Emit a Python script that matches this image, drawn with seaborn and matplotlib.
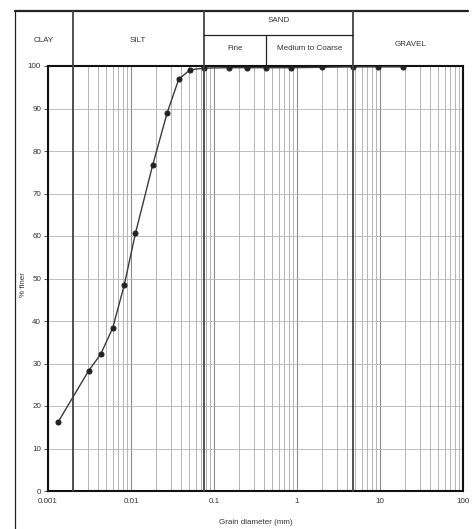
import matplotlib
matplotlib.use("Agg")
import pandas as pd
import matplotlib.pyplot as plt
import seaborn as sns
from matplotlib.ticker import FixedLocator, FixedFormatter, LogLocator, NullFormatter

sns.set_style("white")
plt.rcParams["font.family"] = ["Liberation Sans", "DejaVu Sans"]

# --- Daten ---
diameter_mm = [0.00132, 0.00309, 0.00432, 0.00603, 0.0083, 0.0113, 0.0182, 0.0272,
               0.0376, 0.0514, 0.075, 0.15, 0.25, 0.425, 0.85, 2.0, 4.75, 9.5, 19.0]
percent_finer = [16.2, 28.3, 32.2, 38.4, 48.5, 60.6, 76.6, 88.9,
                 96.9, 99.1, 99.5, 99.6, 99.6, 99.6, 99.6, 99.7, 99.8, 99.8, 99.8]
x_ticks = [0.001, 0.01, 0.1, 1, 10, 100]
x_tick_labels = ["0.001", "0.01", "0.1", "1", "10", "100"]
y_ticks = list(range(0, 101, 10))
clay_silt, silt_sand, fine_medium, sand_gravel = 0.002, 0.075, 0.425, 4.75

df = pd.DataFrame({"d": diameter_mm, "p": percent_finer})

# --- Figur ---
W, H = 473, 529
fig = plt.figure(figsize=(W / 100, H / 100), dpi=100)
L, R, T, B = 48, 463, 66, 491
ax = fig.add_axes([L / W, (H - B) / H, (R - L) / W, (B - T) / H])
ax.set_xscale("log")
ax.set_xlim(0.001, 100)
ax.set_ylim(0, 100)

ax.xaxis.set_minor_locator(LogLocator(base=10, subs=range(2, 10)))
ax.xaxis.set_minor_formatter(NullFormatter())
ax.grid(which="major", axis="x", color="#8c8c8c", lw=0.8)
ax.grid(which="minor", axis="x", color="#a8a8a8", lw=0.6)
ax.grid(which="major", axis="y", color="#b4b4b4", lw=0.6)

sns.lineplot(data=df, x="d", y="p", ax=ax, color="#3a3a3a", lw=1.0,
             marker="o", markersize=3.6, markerfacecolor="#222222",
             markeredgecolor="#222222", zorder=5)

ax.xaxis.set_major_locator(FixedLocator(x_ticks))
ax.xaxis.set_major_formatter(FixedFormatter(x_tick_labels))
ax.set_yticks(y_ticks)
ax.tick_params(axis="both", which="major", labelsize=5.8, colors="#333333",
               length=3, width=0.6, direction="out", pad=2)
ax.tick_params(axis="x", which="minor", length=0)
ax.tick_params(left=True, bottom=False)
for s in ax.spines.values():
    s.set_color("#111111")
    s.set_linewidth(1.5)

ax.set_xlabel("Grain diameter (mm)", fontsize=5.8, color="#333333")
ax.set_ylabel("% finer", fontsize=5.8, color="#333333")
ax.xaxis.set_label_coords(0.5, (B - 519) / (B - T))
ax.yaxis.set_label_coords((27 - L) / (R - L), (B - 285) / (B - T))

# --- Kopf-Tabelle (Bodenklassen) ---
ov = fig.add_axes([0, 0, 1, 1], zorder=10)
ov.set_xlim(0, W)
ov.set_ylim(H, 0)
ov.axis("off")
ov.patch.set_alpha(0)


def px(d):
    return ax.transData.transform((d, 50))[0]


x_cs, x_ss, x_fm, x_sg = px(clay_silt), px(silt_sand), px(fine_medium), px(sand_gravel)
line_kw = dict(color="#222222", lw=0.9)
ov.plot([15, 468], [11, 11], color="#222222", lw=1.6)
ov.plot([15, 15], [11, H], **line_kw)
for xb in (x_cs, x_ss, x_sg):
    ov.plot([xb, xb], [11, B], color="#444444", lw=1.3)
ov.plot([x_fm, x_fm], [35, T], **line_kw)
ov.plot([x_ss, x_sg], [35, 35], **line_kw)

txt = dict(fontsize=5.8, color="#333333", ha="center", va="center")
ov.text((15 + x_cs) / 2, 40, "CLAY", **txt)
ov.text((x_cs + x_ss) / 2, 40, "SILT", **txt)
ov.text((x_ss + x_sg) / 2, 21, "SAND", **txt)
ov.text((x_ss + x_fm) / 2, 49, "Fine", **txt)
ov.text((x_fm + x_sg) / 2, 49, "Medium to Coarse", **txt)
ov.text((x_sg + 468) / 2, 44, "GRAVEL", **txt)

fig.savefig("out.png", dpi=100, facecolor="white")
